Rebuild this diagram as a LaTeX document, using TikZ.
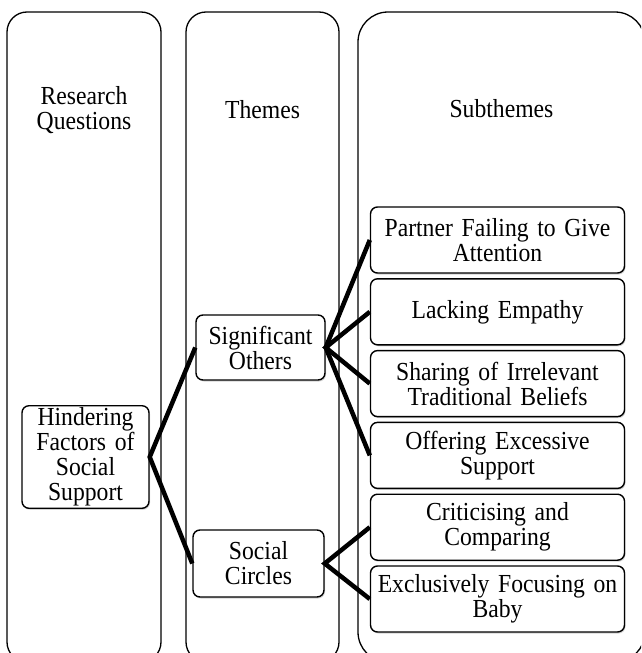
\documentclass[tikz,border=0pt]{standalone}
\usepackage{fontspec}
\setmainfont{Liberation Serif}[FakeStretch=0.91]
\usetikzlibrary{shadows}

\newcommand{\diagfont}{\fontsize{26}{25}\selectfont\spaceskip=5pt plus 1pt minus 1pt\relax}

\tikzset{
  column/.style={draw, line width=1.3pt, rounded corners=20pt},
  head/.style={align=center},
  box/.style={draw, line width=1.4pt, rounded corners=7pt, fill=white, align=center, inner sep=2pt,
    drop shadow={shadow xshift=1pt, shadow yshift=-1.5pt, opacity=0.35}},
  subbox/.style={box, text width=250pt, minimum height=66pt},
  link/.style={line width=4.5pt, line join=miter},
}

\begin{document}
\begin{tikzpicture}[x=1pt, y=-1pt, node distance=71.8pt, font=\diagfont]
\useasboundingbox (0,0) rectangle (641,653);
\clip (0,0) rectangle (641,653);

% the three columns
\draw[column] (7,12) rectangle (161,662);
\draw[column] (186,12) rectangle (339,662);
\draw[column, rounded corners=30pt] (358,12) rectangle (645,662);

\node[head] (rq) at (84,110) {Research\\Questions};
\node[head] (th) at (262.5,110) {Themes};
\node[head] (st) at (501.5,109) {Subthemes};

\node[box, text width=123pt, minimum height=100pt] (hind) at (85.5,457) {Hindering\\Factors of\\Social\\Support};

\node[box, text width=125pt, minimum height=65pt] (sig) at (260.5,347.5) {Significant\\Others};
\node[box, text width=127pt, minimum height=67pt] (soc) at (258.5,563.5) {Social\\Circles};

\node[subbox] (p1) at (497.5,240) {Partner Failing to Give\\Attention};
\node[subbox, below of=p1] (p2) {Lacking Empathy};
\node[subbox, below of=p2] (p3) {Sharing of Irrelevant\\Traditional Beliefs};
\node[subbox, below of=p3] (p4) {Offering Excessive\\Support};
\node[subbox, below of=p4] (p5) {Criticising and\\Comparing};
\node[subbox, below of=p5] (p6) {Exclusively Focusing on\\Baby};

\draw[link] (sig.west) -- (hind.east) -- (soc.west);
\draw[link] (p1.west) -- (sig.east) -- (p4.west);
\draw[link] (p2.west) -- (sig.east) -- (p3.west);
\draw[link] (p5.west) -- (soc.east) -- (p6.west);
\end{tikzpicture}
\end{document}
